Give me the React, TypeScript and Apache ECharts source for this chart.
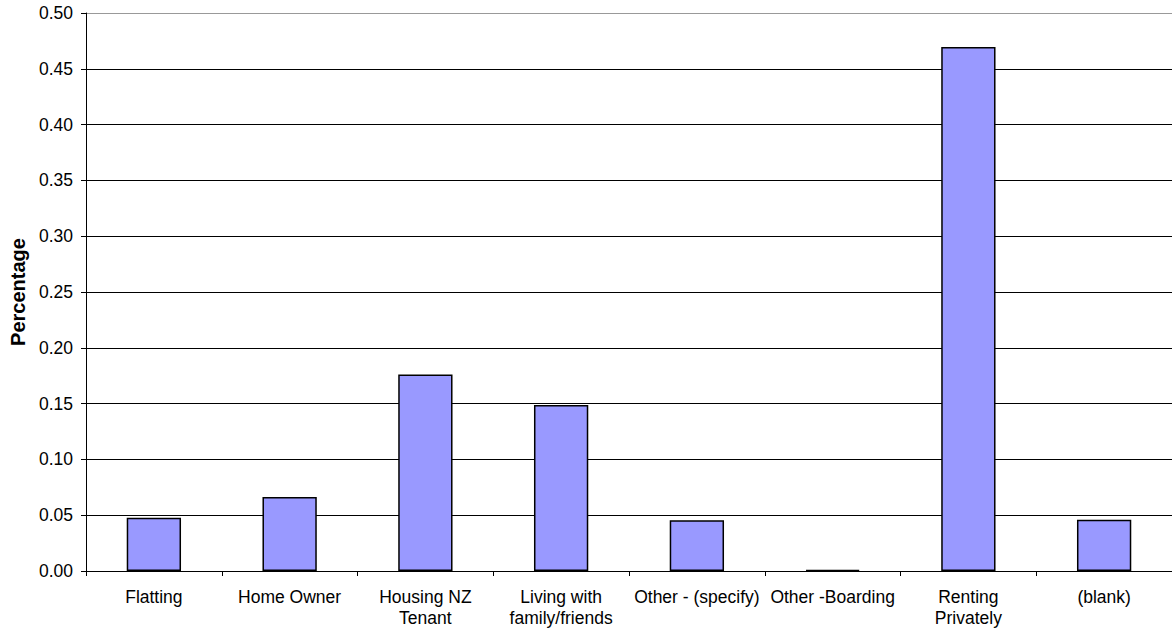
import React, { useEffect, useRef } from "react";
import * as echarts from "echarts";

const categories = [
  "Flatting",
  "Home Owner",
  "Housing NZ\nTenant",
  "Living with\nfamily/friends",
  "Other - (specify)",
  "Other -Boarding",
  "Renting\nPrivately",
  "(blank)",
];
const percentages = [0.0478, 0.0663, 0.176, 0.1487, 0.0455, 0.001, 0.4695, 0.046];

const FONT = "'Liberation Sans', Arial, sans-serif";

export default function App() {
  const ref = useRef<HTMLDivElement>(null);

  useEffect(() => {
    document.body.style.margin = "0";
    const chart = echarts.init(ref.current!, null, { renderer: "svg" });
    // the topmost gridline (0.50) doubles as the plot frame and is grey
    const gridColors = ["#000", "#000", "#000", "#000", "#000", "#000", "#000", "#000", "#000", "#000", "#999"];
    chart.setOption({
      animation: false,
      backgroundColor: "#fff",
      grid: { left: 85, right: 0, top: 13, bottom: 61 },
      xAxis: {
        type: "category",
        data: categories,
        axisLine: { lineStyle: { color: "#000", width: 1 } },
        axisTick: { show: true, length: 5, lineStyle: { color: "#000" }, alignWithLabel: false },
        axisLabel: {
          interval: 0,
          color: "#000",
          fontFamily: FONT,
          fontSize: 17.5,
          margin: 15,
          lineHeight: 21,
        },
        splitLine: { show: false },
      },
      yAxis: {
        type: "value",
        min: 0,
        max: 0.5,
        interval: 0.05,
        name: "Percentage",
        nameLocation: "middle",
        nameGap: 58,
        nameTextStyle: { fontFamily: FONT, fontSize: 20, fontWeight: "bold", color: "#000" },
        axisLine: { show: true, lineStyle: { color: "#000", width: 1 } },
        axisTick: { show: true, length: 5, lineStyle: { color: "#000" } },
        axisLabel: {
          color: "#000",
          fontFamily: FONT,
          fontSize: 17.5,
          margin: 13,
          formatter: (v: number) => v.toFixed(2),
        },
        splitLine: { show: true, lineStyle: { color: gridColors, width: 1 } },
      },
      series: [
        {
          type: "bar",
          data: percentages,
          barWidth: "40%",
          itemStyle: { color: "#9999FF", borderColor: "#000", borderWidth: 1.5 },
        },
      ],
    });
    return () => chart.dispose();
  }, []);

  return <div ref={ref} style={{ width: 1172, height: 632 }} />;
}
